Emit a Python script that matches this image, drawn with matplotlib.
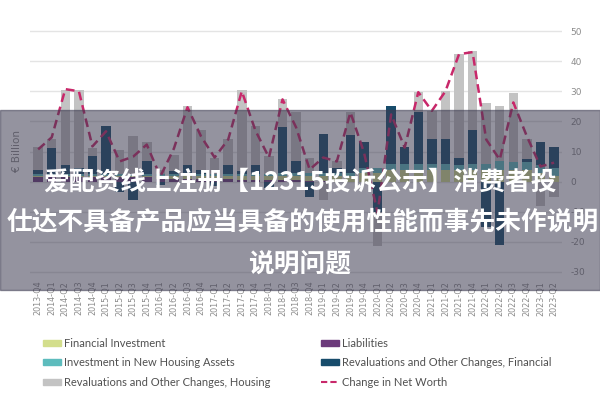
import matplotlib
matplotlib.use("Agg")
import matplotlib.pyplot as plt
from matplotlib.patches import Patch, Rectangle
from matplotlib.lines import Line2D
import numpy as np

plt.rcParams["axes.unicode_minus"] = False

quarters = ["2013-Q4",
            "2014-Q1", "2014-Q2", "2014-Q3", "2014-Q4",
            "2015-Q1", "2015-Q2", "2015-Q3", "2015-Q4",
            "2016-Q1", "2016-Q2", "2016-Q3", "2016-Q4",
            "2017-Q1", "2017-Q2", "2017-Q3", "2017-Q4",
            "2018-Q1", "2018-Q2", "2018-Q3", "2018-Q4",
            "2019-Q1", "2019-Q2", "2019-Q3", "2019-Q4",
            "2020-Q1", "2020-Q2", "2020-Q3", "2020-Q4",
            "2021-Q1", "2021-Q2", "2021-Q3", "2021-Q4",
            "2022-Q1", "2022-Q2", "2022-Q3", "2022-Q4",
            "2023-Q1", "2023-Q2"]

# € billion
liabilities = [1.5, 1.5, 1.5, 1.5, 1.5, 1.5, 1.5, 1.5, 1.5, 1.0, 1.0, 1.0, 1.0,
               1.0, 1.0, 0.5, 0.5, 0.5, 0.5, 0.5, 0.3, 0.3, 0, 0, 0, 0,
               0, 0, 0, 0, 0, 0, 0, 0, 0, 0, 0, 0, 0]
fin_investment = [0.5, 0.5, 0.5, 0.5, 0.5, 0.5, 0.5, 0.5, 0.5, 1, 1, 1, 1,
                  1, 1, 1.5, 1.5, 1.5, 1.5, 1.5, 1.5, 1.5, 2, 2, 3, 3,
                  4, 4, 4, 4, 4, 4, 4, 4, 4, 4, 4, 3, 2]
housing_investment = [0.5, 0.5, 0.5, 0.5, 0.5, 0.5, 0.5, 0.5, 0.5, 0.5, 0.5, 0.5, 0.5,
                      0.5, 0.5, 0.5, 0.5, 0.5, 1, 1, 1, 1, 1, 1, 1.5, 1.5,
                      2, 2, 2, 2, 2, 1.5, 2, 2, 3, 2.5, 2.5, 2.5, 2.5]
reval_financial = [1.5, 8.5, 3, 2, 6, 16, -3.5, -6, 4.5, -1, 1, 3, 1.5,
                   -1.5, 3, 1, 3, -2, 15, 4, -5, 13, 1.5, 12.5, 8.5, -10,
                   19, 5.5, 17, 8, 8, 2.5, 11, -15, -21, 0, 1, 7.5, 7]
reval_housing = [7.5, 3, 25, 26, 2.5, 0, 8, 12.5, 6, 1.5, 5.5, 19.5, 13,
                 5.5, 8.5, 27, 13, 6, 9.5, 16, 5, -6, 2.5, 7.5, 0, -11.5,
                 0, 0, 6.7, 9.5, 16, 34.5, 26.5, 20, 18, 23, 6.5, -8, -5]
net_worth = [10.7, 14.7, 30.7, 30, 11.7, 16.7, 6.7, 8.3, 12.3, 1.7, 11, 24.7, 15,
             8, 14, 30, 17, 8, 27.3, 18, 4, 8, 6.7, 23, 9.7, -10.3,
             22.3, 11.3, 29.7, 23.5, 30, 42.3, 43, 14, 7.3, 26.3, 15, 5, 6.3]

c_fi = "#d3de8c"
c_hi = "#5dbcbd"
c_rh = "#c3c3c3"
c_li = "#6c3a7b"
c_rf = "#174c6b"
c_nw = "#c8286a"
grey_txt = "#8c8c8c"

fig = plt.figure(figsize=(6, 4), dpi=100)
ax = fig.add_axes([0.05, 0.305, 0.887, 0.6325])

x = np.arange(len(quarters))
pos = np.zeros(len(x))
neg = np.zeros(len(x))
for vals, col in [(liabilities, c_li), (fin_investment, c_fi), (housing_investment, c_hi),
                  (reval_financial, c_rf), (reval_housing, c_rh)]:
    v = np.array(vals, dtype=float)
    b = np.where(v >= 0, pos, neg)
    ax.bar(x, v, 0.7, bottom=b, color=col, zorder=2)
    pos = pos + np.clip(v, 0, None)
    neg = neg + np.clip(v, None, 0)

ax.plot(x, net_worth, color=c_nw, lw=1.8, dashes=(3.5, 2), zorder=3)

ax.set_xlim(-0.6, len(x) - 0.4)
ax.set_ylim(-32, 52)
ax.set_yticks(range(-30, 51, 10))
ax.yaxis.tick_right()
ax.tick_params(axis="y", length=0, labelsize=6.5, labelcolor=grey_txt, pad=6)
ax.set_xticks(x)
ax.set_xticklabels(quarters, rotation=90, fontsize=5.8, color=grey_txt)
ax.tick_params(axis="x", length=0, pad=2)
ax.grid(axis="y", color="#e4e4e4", lw=1, zorder=0)
for s in ax.spines.values():
    s.set_visible(False)
ax.set_ylabel("€ Billion", fontsize=7.5, color=grey_txt, labelpad=6)

# legend, two columns
h1 = [Patch(color=c_fi, label="Financial Investment"),
      Patch(color=c_hi, label="Investment in New Housing Assets"),
      Patch(color=c_rh, label="Revaluations and Other Changes, Housing")]
h2 = [Patch(color=c_li, label="Liabilities"),
      Patch(color=c_rf, label="Revaluations and Other Changes, Financial"),
      Line2D([], [], color=c_nw, lw=1.5, dashes=(3, 1.5), label="Change in Net Worth")]
kw = dict(frameon=False, handlelength=1.6, handleheight=0.45,
          handletextpad=0.3, labelspacing=0.75, labelcolor="#505050",
          prop={"family": "Lato", "size": 8})
fig.legend(handles=h1, loc="upper left", bbox_to_anchor=(0.055, 0.18), **kw)
fig.legend(handles=h2, loc="upper left", bbox_to_anchor=(0.518, 0.18), **kw)

# grey watermark band with text
fig.patches.append(Rectangle((0, 0.275), 1, 0.45, transform=fig.transFigure,
                             color="#3c3a50", alpha=0.55, zorder=10))
cjk = ["Noto Sans CJK SC", "DejaVu Sans"]
fig.text(0.5, 0.545, "爱配资线上注册【12315投诉公示】消费者投", ha="center", va="center",
         color="white", fontsize=18.5, fontweight="bold", family=cjk, zorder=11)
fig.text(0.504, 0.445, "仕达不具备产品应当具备的使用性能而事先未作说明", ha="center", va="center",
         color="white", fontsize=18.5, fontweight="bold", family=cjk, zorder=11)
fig.text(0.5, 0.338, "说明问题", ha="center", va="center",
         color="white", fontsize=18.5, fontweight="bold", family=cjk, zorder=11)

fig.savefig("out.png", dpi=100)
